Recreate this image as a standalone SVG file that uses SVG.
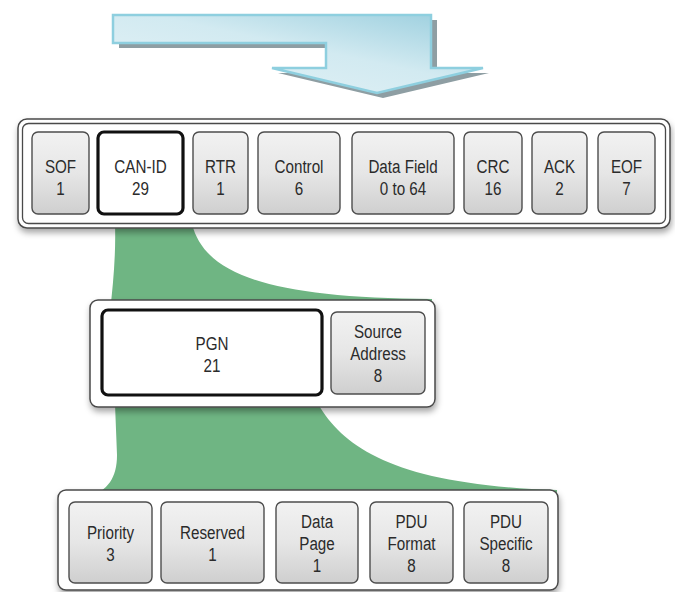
<svg xmlns="http://www.w3.org/2000/svg" width="675" height="592" viewBox="0 0 675 592">
  <defs>
    <linearGradient id="arrowFill" x1="0" y1="1" x2="1" y2="0">
      <stop offset="0" stop-color="#e6f3f7"/>
      <stop offset="0.55" stop-color="#d2eaf1"/>
      <stop offset="1" stop-color="#98cddd"/>
    </linearGradient>
    <linearGradient id="cellFill" x1="0" y1="0" x2="0" y2="1">
      <stop offset="0" stop-color="#f2f2f2"/>
      <stop offset="0.5" stop-color="#e6e6e6"/>
      <stop offset="1" stop-color="#cfcfcf"/>
    </linearGradient>
    <filter id="frameShadow" x="-5%" y="-10%" width="110%" height="130%">
      <feDropShadow dx="1" dy="4" stdDeviation="3" flood-color="#000" flood-opacity="0.35"/>
    </filter>
  </defs>
  <style>
    .frame { fill: #ffffff; stroke: #4a4a4a; stroke-width: 1.5; }
    .inner { fill: none; stroke: #4a4a4a; stroke-width: 1.3; }
    .cell { fill: url(#cellFill); stroke: #4d4d4d; stroke-width: 1.4; }
    .key { fill: #ffffff; stroke: #111111; stroke-width: 3.2; }
    .funnel { fill: #6fb583; }
    .t { font-family: "Liberation Sans", Arial, sans-serif; font-size: 19px; fill: #2b2b2b; text-anchor: middle; transform-box: fill-box; transform-origin: center; transform: scaleX(0.8); }
  </style>

  <rect width="675" height="592" fill="#ffffff"/>

  <!-- big bent arrow pointing into the CAN frame -->
  <g id="arrow">
    <polygon points="119,20 437,20 437,73 489,73 383,98 278,73 332,73 332,48 119,48" fill="#8e9ea3"/>
    <polygon points="113,15 431,15 431,68 483,68 377,93 272,68 326,68 326,43 113,43" fill="url(#arrowFill)" stroke="#8ecfdf" stroke-width="2.5" stroke-linejoin="miter"/>
  </g>

  <!-- expansion funnels -->
  <g id="connectors">
    <path class="funnel" d="M115,224 L192,224 C205,275 270,298 432,299 L432,312 L110,312 C113,285 116,255 115,224 Z"/>
    <path class="funnel" d="M115,404 L318,404 C345,450 400,485 557,490 L557,498 L88,498 C108,490 117,478 117,455 L115,404 Z"/>
  </g>

  <!-- CAN frame -->
  <g id="can-frame">
    <rect class="frame" x="18" y="119" width="652" height="109" rx="9" filter="url(#frameShadow)"/>
    <rect class="inner" x="22.5" y="123.5" width="643" height="100" rx="6"/>
  </g>
  <g id="sof"><rect class="cell" x="32" y="132" width="57" height="82" rx="6"/><text class="t" x="60.5" y="173">SOF</text><text class="t" x="60.5" y="195">1</text></g>
  <g id="can-id"><rect class="key" x="98" y="132" width="85" height="82" rx="6"/><text class="t" x="140.5" y="173">CAN-ID</text><text class="t" x="140.5" y="195">29</text></g>
  <g id="rtr"><rect class="cell" x="193" y="132" width="55" height="82" rx="6"/><text class="t" x="220.5" y="173">RTR</text><text class="t" x="220.5" y="195">1</text></g>
  <g id="control"><rect class="cell" x="258" y="132" width="82" height="82" rx="6"/><text class="t" x="299" y="173">Control</text><text class="t" x="299" y="195">6</text></g>
  <g id="data-field"><rect class="cell" x="352" y="132" width="102" height="82" rx="6"/><text class="t" x="403" y="173">Data Field</text><text class="t" x="403" y="195">0 to 64</text></g>
  <g id="crc"><rect class="cell" x="464" y="132" width="58" height="82" rx="6"/><text class="t" x="493" y="173">CRC</text><text class="t" x="493" y="195">16</text></g>
  <g id="ack"><rect class="cell" x="532" y="132" width="55" height="82" rx="6"/><text class="t" x="559.5" y="173">ACK</text><text class="t" x="559.5" y="195">2</text></g>
  <g id="eof"><rect class="cell" x="598" y="132" width="57" height="82" rx="6"/><text class="t" x="626.5" y="173">EOF</text><text class="t" x="626.5" y="195">7</text></g>

  <!-- identifier split -->
  <g id="id-frame">
    <rect class="frame" x="90" y="300" width="345" height="107" rx="8" filter="url(#frameShadow)"/>
  </g>
  <g id="pgn"><rect class="key" x="102" y="310" width="220" height="85" rx="6"/><text class="t" x="212" y="350">PGN</text><text class="t" x="212" y="372">21</text></g>
  <g id="source-address"><rect class="cell" x="331" y="312" width="94" height="82" rx="6"/><text class="t" x="378" y="338">Source</text><text class="t" x="378" y="360">Address</text><text class="t" x="378" y="382">8</text></g>

  <!-- PGN split -->
  <g id="pgn-frame">
    <rect class="frame" x="58" y="490" width="500" height="100" rx="8" filter="url(#frameShadow)"/>
  </g>
  <g id="priority"><rect class="cell" x="69" y="502" width="83" height="81" rx="6"/><text class="t" x="110.5" y="539">Priority</text><text class="t" x="110.5" y="561">3</text></g>
  <g id="reserved"><rect class="cell" x="161" y="502" width="103" height="81" rx="6"/><text class="t" x="212.5" y="539">Reserved</text><text class="t" x="212.5" y="561">1</text></g>
  <g id="data-page"><rect class="cell" x="276" y="502" width="82" height="81" rx="6"/><text class="t" x="317" y="528">Data</text><text class="t" x="317" y="550">Page</text><text class="t" x="317" y="572">1</text></g>
  <g id="pdu-format"><rect class="cell" x="370" y="502" width="83" height="81" rx="6"/><text class="t" x="411.5" y="528">PDU</text><text class="t" x="411.5" y="550">Format</text><text class="t" x="411.5" y="572">8</text></g>
  <g id="pdu-specific"><rect class="cell" x="464" y="502" width="84" height="81" rx="6"/><text class="t" x="506" y="528">PDU</text><text class="t" x="506" y="550">Specific</text><text class="t" x="506" y="572">8</text></g>
</svg>
